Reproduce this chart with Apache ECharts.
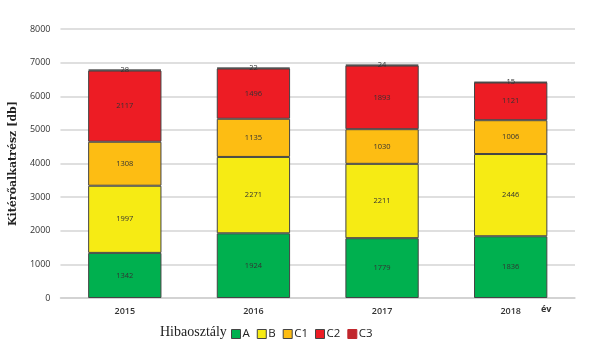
<!DOCTYPE html>
<html><head><meta charset="utf-8">
<script src="https://cdn.jsdelivr.net/npm/echarts@6/dist/echarts.min.js"></script>
<style>html,body{margin:0;padding:0;background:#fff}#c{width:600px;height:359px}</style>
</head><body><div id="c"></div>
<script>
const years = ['2015','2016','2017','2018'];
const seriesNames = ['A','B','C1','C2','C3'];
const valA  = [1342,1924,1779,1836];
const valB  = [1997,2271,2211,2446];
const valC1 = [1308,1135,1030,1006];
const valC2 = [2117,1496,1893,1121];
const valC3 = [28,22,24,15];
const yTicks = [0,1000,2000,3000,4000,5000,6000,7000,8000];
const colors = ['#00b04f','#f6eb14','#fdbd13','#ed1c24','#c1272d'];
const allVals = [valA,valB,valC1,valC2,valC3];

const chart = echarts.init(document.getElementById('c'));
chart.setOption({
  animation:false,
  grid:{left:60,right:25,top:29,bottom:61},
  xAxis:{type:'category',data:years,
    axisLine:{lineStyle:{color:'#d0d0d0',width:1.5}},axisTick:{show:false},
    axisLabel:{color:'#333',fontSize:9,fontWeight:600,fontFamily:'Open Sans',margin:9}},
  yAxis:{type:'value',min:yTicks[0],max:yTicks[yTicks.length-1],interval:1000,
    name:'Kitérőalkatrész [db]',nameLocation:'middle',nameGap:37,
    nameTextStyle:{fontFamily:'DejaVu Serif',fontWeight:'bold',fontSize:11,color:'#222'},
    axisLine:{show:false},axisTick:{show:false},
    axisLabel:{color:'#333',fontSize:9,fontFamily:'Open Sans',margin:10,formatter:v=>String(v)},
    splitLine:{lineStyle:{color:'#d4d4d4',width:1.5}}},
  legend:{left:231,top:328,padding:0,itemWidth:9,itemHeight:9,itemGap:7,icon:'rect',
    textStyle:{fontFamily:'Open Sans',fontSize:11.5,color:'#222',padding:[0,0,0,-3]},
    data:seriesNames.map((n,i)=>({name:n,itemStyle:i===4?{borderColor:colors[4],borderWidth:1}:{borderColor:'#444',borderWidth:1}}))},
  graphic:[
    {type:'text',left:160,top:325,style:{text:'Hibaosztály',font:'14px "Liberation Serif", serif',fill:'#222'}},
    {type:'text',left:541,top:305,style:{text:'év',font:'bold 9px "Open Sans"',fill:'#333'}}
  ],
  series:seriesNames.map((n,i)=>({
    name:n,type:'bar',stack:'t',data:allVals[i],barWidth:'57%',
    itemStyle:{color:colors[i],borderColor:'#444',borderWidth:1},
    label:{show:true,position:'inside',fontSize:7.5,color:'#333',fontFamily:'Open Sans'}
  }))
});
</script></body></html>
